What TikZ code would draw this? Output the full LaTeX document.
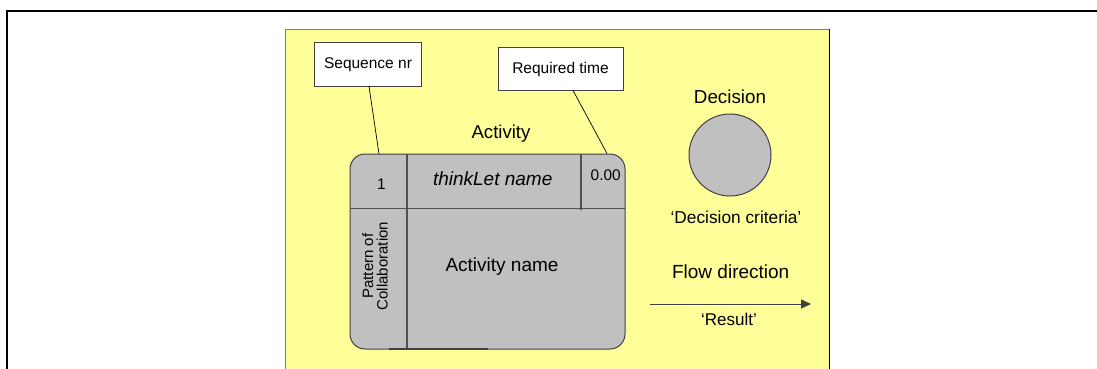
\documentclass[tikz,border=0pt]{standalone}
\usepackage{fontspec}
\setmainfont{Liberation Sans}
\usetikzlibrary{arrows.meta}
\definecolor{pale}{HTML}{FFFF99}
\definecolor{boxgray}{HTML}{C0C0C0}
\definecolor{edgegray}{HTML}{404040}
\definecolor{divgray}{HTML}{505050}
\tikzset{
  callout/.style={draw=edgegray, line width=0.8pt, fill=white, inner sep=0pt},
  leader/.style={draw=black, line width=0.7pt},
  divider/.style={draw=divgray, line width=1.6pt},
  lbl/.style={inner sep=0pt, anchor=base, text=black},
}
\begin{document}
\begin{tikzpicture}[x=1pt, y=-1pt]
\useasboundingbox (0,0) rectangle (1097,369);
% outer frame
\draw[line width=2.2pt, black] (6,11) -- (1097,11);
\draw[line width=2.2pt, black] (7,10) -- (7,369);
% yellow panel
\fill[pale] (285.5,29) rectangle (829.5,372);
\draw[line width=0.9pt, gray] (285.5,372) -- (285.5,29) -- (829.5,29);
\draw[line width=1pt, black] (829.5,29) -- (829.5,372);

% callout boxes
\node[callout, minimum width=107pt, minimum height=44pt] (seq) at (367.5,64) {};
\node[lbl, font=\fontsize{15.5}{18}\selectfont] (seqt) at (368,69) {Sequence nr};
\node[callout, minimum width=125pt, minimum height=43pt] (req) at (560.5,68.5) {};
\node[lbl, font=\fontsize{15.5}{18}\selectfont] (reqt) at (560.5,73.3) {Required time};

% activity box
\draw[draw=edgegray, line width=1pt, fill=boxgray, rounded corners=15pt] (350,154) rectangle (625,349);
\draw[divider] (350,208.5) -- (625,208.5);
\draw[divider] (407,154) -- (407,349);
\draw[divider] (581,154) -- (581,209.5);
\draw[line width=1.6pt, edgegray] (389,348.7) -- (488,348.7);
\coordinate (seqend) at (379,154);
\coordinate (reqend) at (607,153.5);
\draw[leader] (seq.south -| 369,0) -- (seqend);
\draw[leader] (req.south -| 573,0) -- (reqend);

\node[lbl, font=\fontsize{18.6}{22}\selectfont] (act) at (501,138) {Activity};
\node[lbl, font=\fontsize{15.4}{18}\selectfont] (seqnr) at (381.5,189) {1};
\node[lbl, font=\fontsize{19}{22}\selectfont\itshape] (tl) at (492.7,185.7) {thinkLet name};
\node[lbl, font=\fontsize{15.4}{18}\selectfont] (time) at (605.7,180.7) {0.00};
\node[lbl, font=\fontsize{19}{22}\selectfont] (an) at (502,271.7) {Activity name};
\node[inner sep=0pt, rotate=90, align=center, font=\fontsize{15}{14.5}\selectfont] (pc) at (375,266) {Pattern of\\Collaboration};

% decision
\node[lbl, font=\fontsize{18.8}{22}\selectfont] (dec) at (730,103.3) {Decision};
\node[circle, draw=edgegray, line width=1pt, fill=boxgray, minimum size=82pt, inner sep=0pt] (circ) at (730,155) {};
\node[lbl, font=\fontsize{17.3}{20}\selectfont] (crit) at (736,223.3) {‘Decision criteria’};

% flow
\node[lbl, font=\fontsize{19}{22}\selectfont] (flow) at (730.7,278.3) {Flow direction};
\coordinate (fa) at (650,304);
\coordinate (fb) at (811,304);
\draw[line width=1pt, edgegray, -{Triangle[length=10pt,width=9pt]}] (fa) -- (fb);
\node[lbl, font=\fontsize{17}{20}\selectfont] (res) at (729,325) {‘Result’};
\end{tikzpicture}
\end{document}
